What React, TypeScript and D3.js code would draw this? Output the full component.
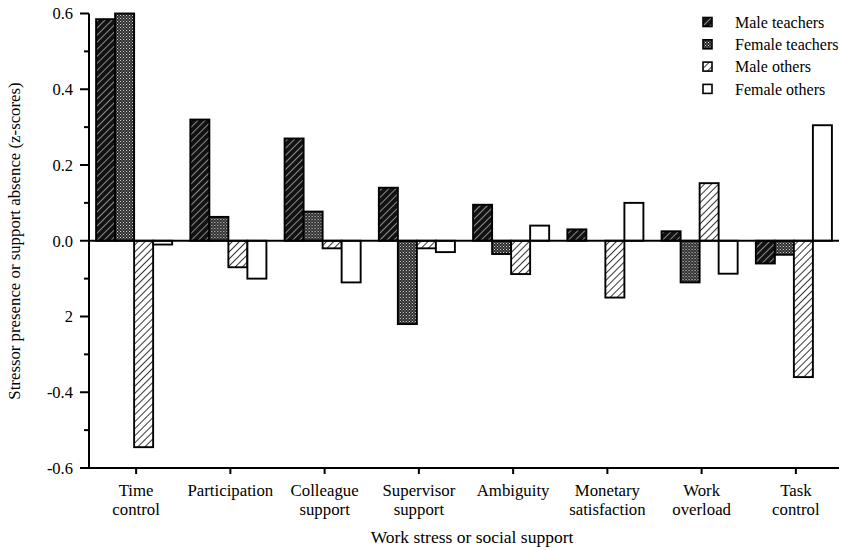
import React from "react";
import * as d3 from "d3";

const categories = [
  "Time control",
  "Participation",
  "Colleague support",
  "Supervisor support",
  "Ambiguity",
  "Monetary satisfaction",
  "Work overload",
  "Task control",
];
const categoryLines: string[][] = [
  ["Time", "control"],
  ["Participation"],
  ["Colleague", "support"],
  ["Supervisor", "support"],
  ["Ambiguity"],
  ["Monetary", "satisfaction"],
  ["Work", "overload"],
  ["Task", "control"],
];
const seriesNames = ["Male teachers", "Female teachers", "Male others", "Female others"];
const maleTeachers = [0.585, 0.32, 0.27, 0.14, 0.095, 0.03, 0.025, -0.06];
const femaleTeachers = [0.6, 0.063, 0.077, -0.22, -0.035, 0, -0.11, -0.037];
const maleOthers = [-0.545, -0.07, -0.02, -0.02, -0.088, -0.15, 0.152, -0.36];
const femaleOthers = [-0.01, -0.1, -0.11, -0.03, 0.04, 0.1, -0.087, 0.305];
const majorTickValues = [0.6, 0.4, 0.2, 0, -0.2, -0.4, -0.6];
const majorTickLabels = ["0.6", "0.4", "0.2", "0.0", "2", "-0.4", "-0.6"];
const minorTickValues = [0.5, 0.3, 0.1, -0.1, -0.3, -0.5];

const seriesValues = [maleTeachers, femaleTeachers, maleOthers, femaleOthers];
const fills = ["url(#pMT)", "url(#pFT)", "url(#pMO)", "#ffffff"];

const W = 843;
const H = 550;
const FONT = "'Liberation Serif', 'Times New Roman', serif";

export default function App() {
  const y = d3.scaleLinear().domain([-0.6, 0.6]).range([468, 13.5]);
  const x0 = d3
    .scaleBand<string>()
    .domain(categories)
    .range([87, 841])
    .paddingInner(0.193)
    .paddingOuter(0.0965);
  const x1 = d3.scaleBand<string>().domain(seriesNames).range([0, x0.bandwidth()]);
  const axisX = 89;
  const bottomY = y(-0.6);
  const zeroY = y(0);

  return (
    <svg
      width={W}
      height={H}
      style={{ position: "absolute", left: 0, top: 0, background: "#fff" }}
      fontFamily={FONT}
    >
      <defs>
        <pattern id="pMT" patternUnits="userSpaceOnUse" width="5" height="5" patternTransform="rotate(45)">
          <rect width="5" height="5" fill="#121212" />
          <line x1="0" y1="0" x2="0" y2="5" stroke="#f0f0f0" strokeWidth="1.1" />
        </pattern>
        <pattern id="pFT" patternUnits="userSpaceOnUse" width="3" height="3">
          <rect width="3" height="3" fill="#262626" />
          <rect x="0" y="0" width="1" height="1" fill="#e8e8e8" />
          <rect x="1.5" y="1.5" width="1" height="1" fill="#cfcfcf" />
        </pattern>
        <pattern id="pMO" patternUnits="userSpaceOnUse" width="5" height="5" patternTransform="rotate(45)">
          <rect width="5" height="5" fill="#ffffff" />
          <line x1="0" y1="0" x2="0" y2="5" stroke="#111" strokeWidth="1.7" />
        </pattern>
      </defs>

      {/* bars */}
      {categories.map((c, ci) => (
        <g key={c} transform={`translate(${x0(c)},0)`}>
          {seriesNames.map((s, si) => {
            const v = seriesValues[si][ci];
            if (v === 0) return null;
            const y0 = Math.min(y(v), zeroY);
            const h = Math.abs(y(v) - zeroY);
            return (
              <rect
                key={s}
                x={x1(s)}
                y={y0}
                width={x1.bandwidth()}
                height={h}
                fill={fills[si]}
                stroke="#000"
                strokeWidth={1.9}
              />
            );
          })}
        </g>
      ))}

      {/* zero line */}
      <line x1={axisX} x2={839} y1={zeroY} y2={zeroY} stroke="#000" strokeWidth={2} />

      {/* y axis */}
      <line x1={axisX} x2={axisX} y1={y(0.6)} y2={bottomY} stroke="#000" strokeWidth={2} />
      {majorTickValues.map((v, i) => (
        <g key={"M" + i}>
          <line x1={axisX - 9} x2={axisX} y1={y(v)} y2={y(v)} stroke="#000" strokeWidth={2} />
          <text x={73} y={y(v)} dy="0.35em" textAnchor="end" fontSize={16.5} fill="#000">
            {majorTickLabels[i]}
          </text>
        </g>
      ))}
      {minorTickValues.map((v, i) => (
        <line key={"m" + i} x1={axisX - 5} x2={axisX} y1={y(v)} y2={y(v)} stroke="#000" strokeWidth={2} />
      ))}

      {/* x axis */}
      <line x1={80} x2={839} y1={bottomY} y2={bottomY} stroke="#000" strokeWidth={2} />
      {categories.map((c, ci) => {
        const cx = (x0(c) as number) + x0.bandwidth() / 2 + 2;
        return (
          <g key={"t" + c}>
            <line x1={cx} x2={cx} y1={bottomY} y2={bottomY + 6} stroke="#000" strokeWidth={2} />
            {categoryLines[ci].map((ln, li) => (
              <text key={li} x={cx} y={496 + li * 19} textAnchor="middle" fontSize={16.8} fill="#000">
                {ln}
              </text>
            ))}
          </g>
        );
      })}

      {/* axis titles */}
      <text x={472} y={543} textAnchor="middle" fontSize={17.5} fill="#000">
        Work stress or social support
      </text>
      <text
        transform={`translate(20,${241}) rotate(-90)`}
        textAnchor="middle"
        fontSize={16.8}
        fill="#000"
      >
        Stressor presence or support absence (z-scores)
      </text>

      {/* legend */}
      {seriesNames.map((s, si) => {
        const ly = 22 + si * 22.3;
        return (
          <g key={"l" + s}>
            <rect x={703} y={ly - 4.5} width={9} height={9} fill={fills[si]} stroke="#000" strokeWidth={1.6} />
            <text x={735} y={ly} dy="0.35em" fontSize={16} fill="#000">
              {s}
            </text>
          </g>
        );
      })}
    </svg>
  );
}
